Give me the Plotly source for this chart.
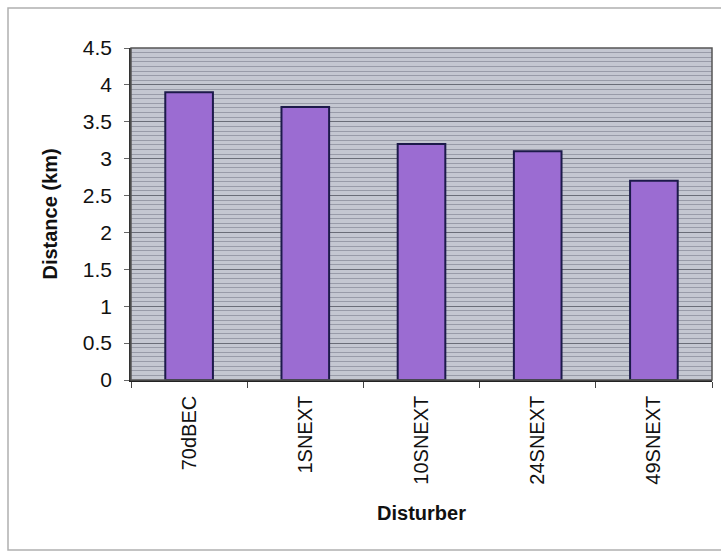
import plotly.graph_objects as go

# Maximum reach per disturber type
disturbers = ["70dBEC", "1SNEXT", "10SNEXT", "24SNEXT", "49SNEXT"]
distance_km = [3.9, 3.7, 3.2, 3.1, 2.7]
y_ticks = [0, 0.5, 1, 1.5, 2, 2.5, 3, 3.5, 4, 4.5]
y_tick_text = ["0", "0.5", "1", "1.5", "2", "2.5", "3", "3.5", "4", "4.5"]

W, H = 721, 554
L, R, T, B = 131, 9, 48, 174

fig = go.Figure(
    go.Bar(
        x=disturbers,
        y=distance_km,
        width=0.41,
        marker=dict(color="#9b6cd2", line=dict(color="#1c1a4a", width=2)),
    )
)

font = "Liberation Sans, Arial, sans-serif"

fig.update_layout(
    width=W,
    height=H,
    margin=dict(l=L, r=R, t=T, b=B),
    paper_bgcolor="white",
    plot_bgcolor="#c4c7d1",
    showlegend=False,
    font=dict(family=font, color="#111111"),
    xaxis=dict(
        type="category",
        showline=True,
        linecolor="#222222",
        linewidth=1.5,
        mirror=False,
        ticks="outside",
        tickson="boundaries",
        ticklen=6,
        tickcolor="#444444",
        tickangle=-90,
        ticklabelstandoff=6,
        tickfont=dict(size=20, family=font),
        title=dict(text="<b>Disturber</b>", font=dict(size=20, family=font), standoff=22),
        showgrid=False,
    ),
    yaxis=dict(
        range=[0, 4.5],
        tickvals=y_ticks,
        ticktext=y_tick_text,
        ticks="outside",
        ticklen=5,
        tickcolor="#666666",
        ticklabelstandoff=8,
        tickfont=dict(size=21, family=font),
        showline=True,
        linecolor="#333333",
        linewidth=1.5,
        showgrid=True,
        gridcolor="#6a6d78",
        gridwidth=1,
        minor=dict(dtick=0.0625, showgrid=True, gridcolor="#989ba8", gridwidth=1),
        zeroline=False,
        title=dict(text="<b>Distance (km)</b>", font=dict(size=20, family=font), standoff=20),
    ),
)

# Plot-area frame on the top and right edges
fig.add_shape(type="rect", xref="paper", yref="paper", x0=0, y0=0, x1=1, y1=1,
              line=dict(color="#555555", width=1.5), fillcolor="rgba(0,0,0,0)", layer="above")

# Light outer border around the whole chart
pw, ph = W - L - R, H - T - B
fig.add_shape(type="rect", xref="paper", yref="paper",
              x0=(8 - L) / pw, x1=(W + 2 - L) / pw,
              y0=(H - B - 550) / ph, y1=(H - B - 8) / ph,
              line=dict(color="#b0b0b0", width=1.5), fillcolor="rgba(0,0,0,0)", layer="below")

fig.write_html("out.html")
